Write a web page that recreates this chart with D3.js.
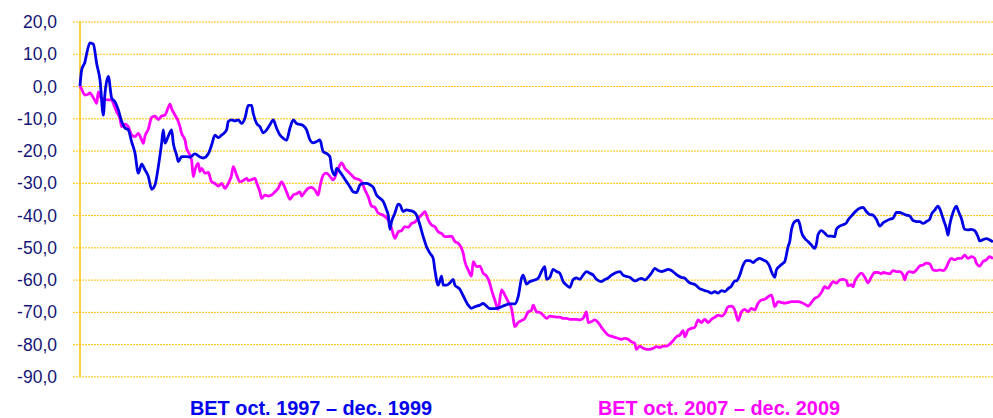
<!DOCTYPE html>
<html><head><meta charset="utf-8">
<script src="https://cdn.jsdelivr.net/npm/d3@7"></script>
<style>body{margin:0;background:#fff}svg{display:block}</style>
</head><body>
<script>
// Y tick values
const yTicks = [20,10,0,-10,-20,-30,-40,-50,-60,-70,-80,-90];
// Series names
const seriesNames = ["BET oct. 1997 \u2013 dec. 1999", "BET oct. 2007 \u2013 dec. 2009"];
// Trading-day index, % change (blue series: 1997-1999)
const bet1997 = [[0,0],[1,5],[3,7.5],[4,10],[6,13.4],[8,13],[10,7],[12,1.9],[14,-9],[15,-2.3],[17,3],[19,-3.7],[21,-4.9],[23,-7.4],[25,-11],[27,-13],[29,-13.6],[31,-17.3],[33,-20.8],[35,-27],[37,-24.2],[39,-26],[41,-28],[43,-32],[45,-30.7],[47,-25],[49,-17.7],[50,-13.6],[51,-17.7],[53,-15.5],[55,-13.6],[56,-17.7],[58,-21.4],[59,-23.4],[61,-21.9],[64,-21.9],[66,-22],[69,-21],[72,-22],[74,-22.3],[77,-21],[79,-18.3],[81,-15.2],[83,-16],[85,-15.2],[88,-13.6],[89,-11],[91,-10.5],[93,-10.8],[95,-10.5],[97,-11.6],[99,-10],[101,-6],[103,-6],[104,-8.5],[106,-11.6],[108,-12.6],[110,-14.5],[112,-13.6],[114,-12],[116,-10.5],[118,-13.1],[120,-15.2],[122,-16.2],[124,-16.8],[126,-13.1],[128,-10.5],[130,-11.6],[132,-11.9],[134,-12.3],[136,-13.6],[138,-16.7],[140,-17.6],[142,-17.2],[144,-16.7],[146,-20.4],[148,-20.9],[150,-21.9],[151,-25.5],[153,-27.6],[154,-25.5],[156,-26.6],[158,-28.1],[160,-29.7],[162,-31.2],[164,-32.8],[166,-33],[168,-30.7],[170,-30.2],[172,-30.2],[174,-30.6],[176,-31.4],[178,-33.8],[180,-34.8],[182,-35.8],[184,-38.4],[185,-40],[186,-44.4],[187,-42],[189,-39.4],[191,-36.6],[192,-36.8],[194,-38.9],[196,-38.4],[198,-38.6],[200,-38.9],[202,-40],[204,-43],[206,-46.7],[208,-49.8],[210,-51.8],[212,-53.4],[213,-57],[215,-61.7],[217,-58.9],[218,-61.7],[220,-61.7],[222,-61],[224,-59.9],[225,-61.7],[228,-63],[230,-65],[233,-67.9],[235,-68.9],[237,-68.4],[240,-67.9],[242,-67.4],[244,-68.2],[246,-69],[249,-69],[252,-68.6],[255,-68],[258,-67.5],[261,-67.5],[263,-65.3],[265,-59.6],[266,-58.6],[268,-61.4],[270,-60.6],[273,-60.1],[275,-59.6],[277,-57.5],[279,-56],[280,-59.9],[282,-59.3],[284,-56.8],[286,-57.5],[288,-58],[290,-60.6],[292,-61.7],[294,-62.4],[296,-60],[298,-59.5],[300,-59.9],[302,-58.6],[304,-57.5],[306,-58],[308,-58.6],[310,-59.9],[313,-60.6],[315,-60],[317,-59.5],[319,-58.6],[321,-58],[324,-57.5],[326,-58.6],[328,-59],[330,-59.3],[333,-60.4],[335,-60],[337,-59.6],[339,-60.1],[341,-59.3],[343,-58],[345,-56.5],[347,-57.2],[349,-57.5],[351,-57.2],[353,-56.8],[355,-57.2],[357,-58],[359,-58.8],[361,-59.3],[363,-59.6],[365,-60.6],[367,-61.2],[369,-61.5],[372,-62.8],[373,-63],[375,-63.4],[377,-63.7],[379,-64.2],[381,-63.7],[383,-64.2],[385,-63.4],[387,-63.7],[389,-62.8],[391,-62],[393,-60.4],[394,-60.4],[396,-58.6],[398,-55.5],[400,-54.1],[402,-54.1],[404,-54.7],[406,-53.9],[408,-53.4],[410,-53.9],[412,-54.4],[414,-56],[415,-57.5],[417,-59.3],[418,-57],[420,-55.8],[422,-54.9],[423,-54.4],[425,-49.8],[426,-48.2],[427,-44.6],[429,-42],[431,-41.6],[432,-42.8],[433,-45.2],[435,-47.2],[437,-48.2],[439,-49.3],[441,-50.3],[442,-49],[443,-46],[445,-44.8],[447,-45.6],[449,-46.5],[451,-46.5],[453,-46.7],[454,-44.4],[456,-43.4],[458,-43],[460,-42.4],[461,-41.5],[463,-40.3],[466,-38.6],[468,-37.9],[470,-37.6],[472,-38.9],[474,-39.8],[476,-40],[478,-41.3],[480,-43.4],[482,-42.4],[484,-41.8],[486,-41.3],[488,-41],[490,-39.2],[492,-39.2],[494,-39.6],[496,-40],[498,-40.3],[500,-41.7],[502,-42],[504,-42],[506,-42.6],[508,-42],[510,-41.3],[511,-39.8],[513,-38.5],[515,-37.2],[516,-38],[518,-41],[520,-44.1],[521,-46.2],[522,-43.1],[524,-39.2],[526,-37.2],[527,-38.5],[529,-41],[531,-44.4],[533,-44.6],[535,-44.4],[537,-44.8],[539,-46.7],[540,-48],[542,-47.6],[544,-47.3],[546,-47.7],[548,-48.3]];
// Trading-day index, % change (magenta series: 2007-2009)
const bet2007 = [[0,0],[1,-1],[3,-2.8],[5,-2.5],[6,-2.1],[7,-2.8],[9,-4.5],[10,-5.4],[11,-1.8],[12,-3.3],[13,-3.7],[15,-4.1],[17,-4.3],[19,-4.3],[20,-5.4],[22,-8],[24,-10.1],[25,-12.6],[27,-11.8],[29,-12.6],[31,-15.2],[33,-15.7],[35,-14.7],[37,-16.7],[38,-17.8],[39,-15.5],[41,-13.4],[43,-9.7],[45,-9.3],[47,-10.4],[49,-9.3],[51,-9],[53,-6.6],[54,-5.6],[55,-7],[57,-9],[59,-11],[60,-12.6],[61,-14.7],[63,-16.7],[64,-19.3],[65,-20.4],[67,-23],[68,-28.1],[69,-26],[71,-24],[72,-26.5],[73,-25.5],[75,-27],[77,-26.8],[79,-29.7],[81,-30.2],[83,-31],[85,-30.2],[87,-31.7],[89,-30.2],[91,-27.6],[92,-25],[94,-27.6],[96,-29.7],[98,-29.3],[100,-28.6],[101,-29.3],[103,-29],[105,-28.6],[106,-30],[108,-32.8],[109,-34.8],[111,-33.8],[113,-34.1],[115,-33.8],[117,-32.8],[119,-31.7],[121,-29.7],[122,-30.4],[124,-32.8],[126,-35.1],[128,-33.8],[130,-33.4],[132,-32.8],[133,-34.1],[135,-32.8],[137,-31.7],[139,-31.4],[141,-32.2],[143,-33.8],[144,-31.2],[146,-27.6],[148,-27],[150,-28],[152,-29.1],[154,-27],[156,-24.5],[157,-23.8],[159,-25.5],[161,-26.6],[163,-27.6],[165,-28.6],[167,-28.9],[169,-29.7],[171,-32.2],[173,-34.3],[175,-37.2],[177,-37.6],[179,-39.4],[181,-39.8],[183,-40.4],[185,-41.5],[187,-44.1],[189,-47.2],[191,-45.2],[193,-44.8],[195,-43.6],[197,-43.8],[199,-42.6],[201,-42.2],[203,-41],[205,-40],[207,-38.9],[209,-41.5],[211,-43.1],[213,-43.6],[215,-45.2],[217,-45.7],[219,-46.7],[221,-46.7],[223,-46.5],[225,-48.2],[227,-48.7],[229,-50.3],[230,-51.8],[231,-54.4],[233,-57],[235,-58.9],[236,-54.4],[238,-56],[240,-55.8],[242,-58],[244,-58.9],[246,-61.2],[247,-63.2],[249,-66.3],[251,-69.2],[253,-63.2],[255,-64.8],[257,-66.8],[259,-68.9],[260,-72],[261,-74.6],[263,-73.3],[265,-72.7],[267,-72],[269,-70],[271,-69.5],[272,-67.9],[274,-70],[276,-70.2],[278,-71],[280,-72],[282,-71.3],[284,-71.5],[286,-71.6],[288,-71.6],[290,-72],[292,-72],[294,-72.3],[296,-72.3],[298,-72.3],[300,-72.5],[302,-72],[304,-70],[305,-73.3],[307,-73],[309,-72.5],[311,-73.3],[313,-74.8],[315,-76.1],[317,-77.2],[319,-77.5],[321,-77.9],[323,-78.2],[325,-78.5],[327,-78.2],[329,-78.5],[331,-79.3],[333,-79.8],[334,-81.6],[336,-80.6],[338,-81.3],[340,-81.6],[342,-81.6],[344,-81.3],[346,-80.8],[348,-81],[350,-80.6],[352,-80.6],[354,-80],[356,-78.9],[358,-77.7],[360,-77.2],[362,-75.8],[363,-77.7],[365,-75.6],[367,-75.1],[369,-74.8],[371,-72.5],[373,-73.3],[375,-72.3],[377,-73.3],[379,-72.3],[381,-71.7],[383,-71],[385,-71.3],[387,-70.5],[389,-68.4],[391,-68.2],[393,-69.4],[394,-71.2],[395,-72.7],[397,-70],[399,-69.2],[401,-69.9],[403,-68.9],[405,-69.4],[407,-67.3],[409,-66.3],[411,-66.1],[413,-65.3],[415,-64.8],[416,-66.3],[417,-68.4],[419,-66.8],[421,-67.1],[423,-67.3],[425,-67.1],[427,-66.8],[429,-66.8],[431,-66.8],[433,-67.1],[435,-67.6],[437,-68.2],[439,-67.1],[441,-65.8],[443,-65.3],[445,-64],[447,-62.2],[449,-62.7],[450,-62],[452,-60.6],[454,-61.1],[456,-60.1],[458,-59.9],[460,-60.3],[461,-61.9],[463,-61.6],[464,-62.2],[465,-60.6],[467,-58.9],[469,-58],[471,-59.2],[473,-61],[475,-59.2],[477,-57.8],[479,-57.8],[481,-58.2],[482,-57.8],[484,-58],[486,-58.2],[488,-57.2],[490,-57.5],[492,-57.5],[494,-58.5],[495,-60.1],[496,-58.5],[498,-57.5],[500,-57.8],[502,-57],[504,-55.8],[506,-55.5],[508,-54.9],[510,-55.1],[512,-57],[514,-57.2],[516,-57],[518,-57.2],[520,-56.2],[521,-55],[523,-53.4],[525,-53.9],[527,-53.4],[529,-53.4],[531,-52.4],[533,-53.4],[535,-52.9],[537,-53.4],[538,-54.9],[540,-55.8],[542,-54.4],[544,-53.9],[546,-52.9],[548,-53.5]];

const W = 993, H = 418;
const margin = {left: 80, right: 0, top: 21.5, bottom: 41.6};
const svg = d3.select("body").append("svg").attr("width", W).attr("height", H);

const x = d3.scaleLinear().domain([0, 548]).range([margin.left, W - margin.right]);
const y = d3.scaleLinear().domain([-90, 20]).range([H - margin.bottom, margin.top]);

// gridlines (dotted) incl. tick stubs
const yAxis = d3.axisLeft(y).tickValues(yTicks)
  .tickSize(-(W - margin.left)).tickPadding(0)
  .tickFormat(d => d3.format(".1f")(d).replace(".", ",").replace("\u2212", "-"));
const gy = svg.append("g").attr("transform", `translate(${margin.left},0)`).call(yAxis);
gy.select(".domain").remove();
gy.selectAll(".tick line")
  .attr("x1", -7).attr("x2", W - margin.left)
  .attr("stroke", "#ffc000").attr("stroke-width", 1).attr("stroke-dasharray", "2,1");
gy.selectAll(".tick text")
  .attr("x", -23).attr("dy", "0.35em")
  .attr("fill", "#141478")
  .style("font-family", "'Liberation Sans', Arial, sans-serif")
  .style("font-size", "17.5px");

// left axis line
svg.append("line")
  .attr("x1", margin.left).attr("x2", margin.left)
  .attr("y1", y(20)).attr("y2", y(-90))
  .attr("stroke", "#ffc000").attr("stroke-width", 1.5);

const line = d3.line().x(d => x(d[0])).y(d => y(d[1])).curve(d3.curveMonotoneX);

svg.append("path").datum(bet2007)
  .attr("fill", "none").attr("stroke", "#ff00ff").attr("stroke-width", 2.8)
  .attr("stroke-linejoin", "round").attr("d", line);
svg.append("path").datum(bet1997)
  .attr("fill", "none").attr("stroke", "#0000e6").attr("stroke-width", 2.8)
  .attr("stroke-linejoin", "round").attr("d", line);

// legend
const legend = [
  {name: seriesNames[0], color: "#0000ee", x0: 190},
  {name: seriesNames[1], color: "#ff00ff", x0: 598}
];
svg.selectAll("text.leg").data(legend).enter().append("text")
  .attr("class", "leg")
  .attr("x", d => d.x0).attr("y", 415)
  .attr("fill", d => d.color)
  .attr("textLength", 242).attr("lengthAdjust", "spacingAndGlyphs")
  .style("font-family", "'Liberation Sans', Arial, sans-serif")
  .style("font-weight", "bold").style("font-size", "19.5px")
  .text(d => d.name);
</script>
</body></html>
